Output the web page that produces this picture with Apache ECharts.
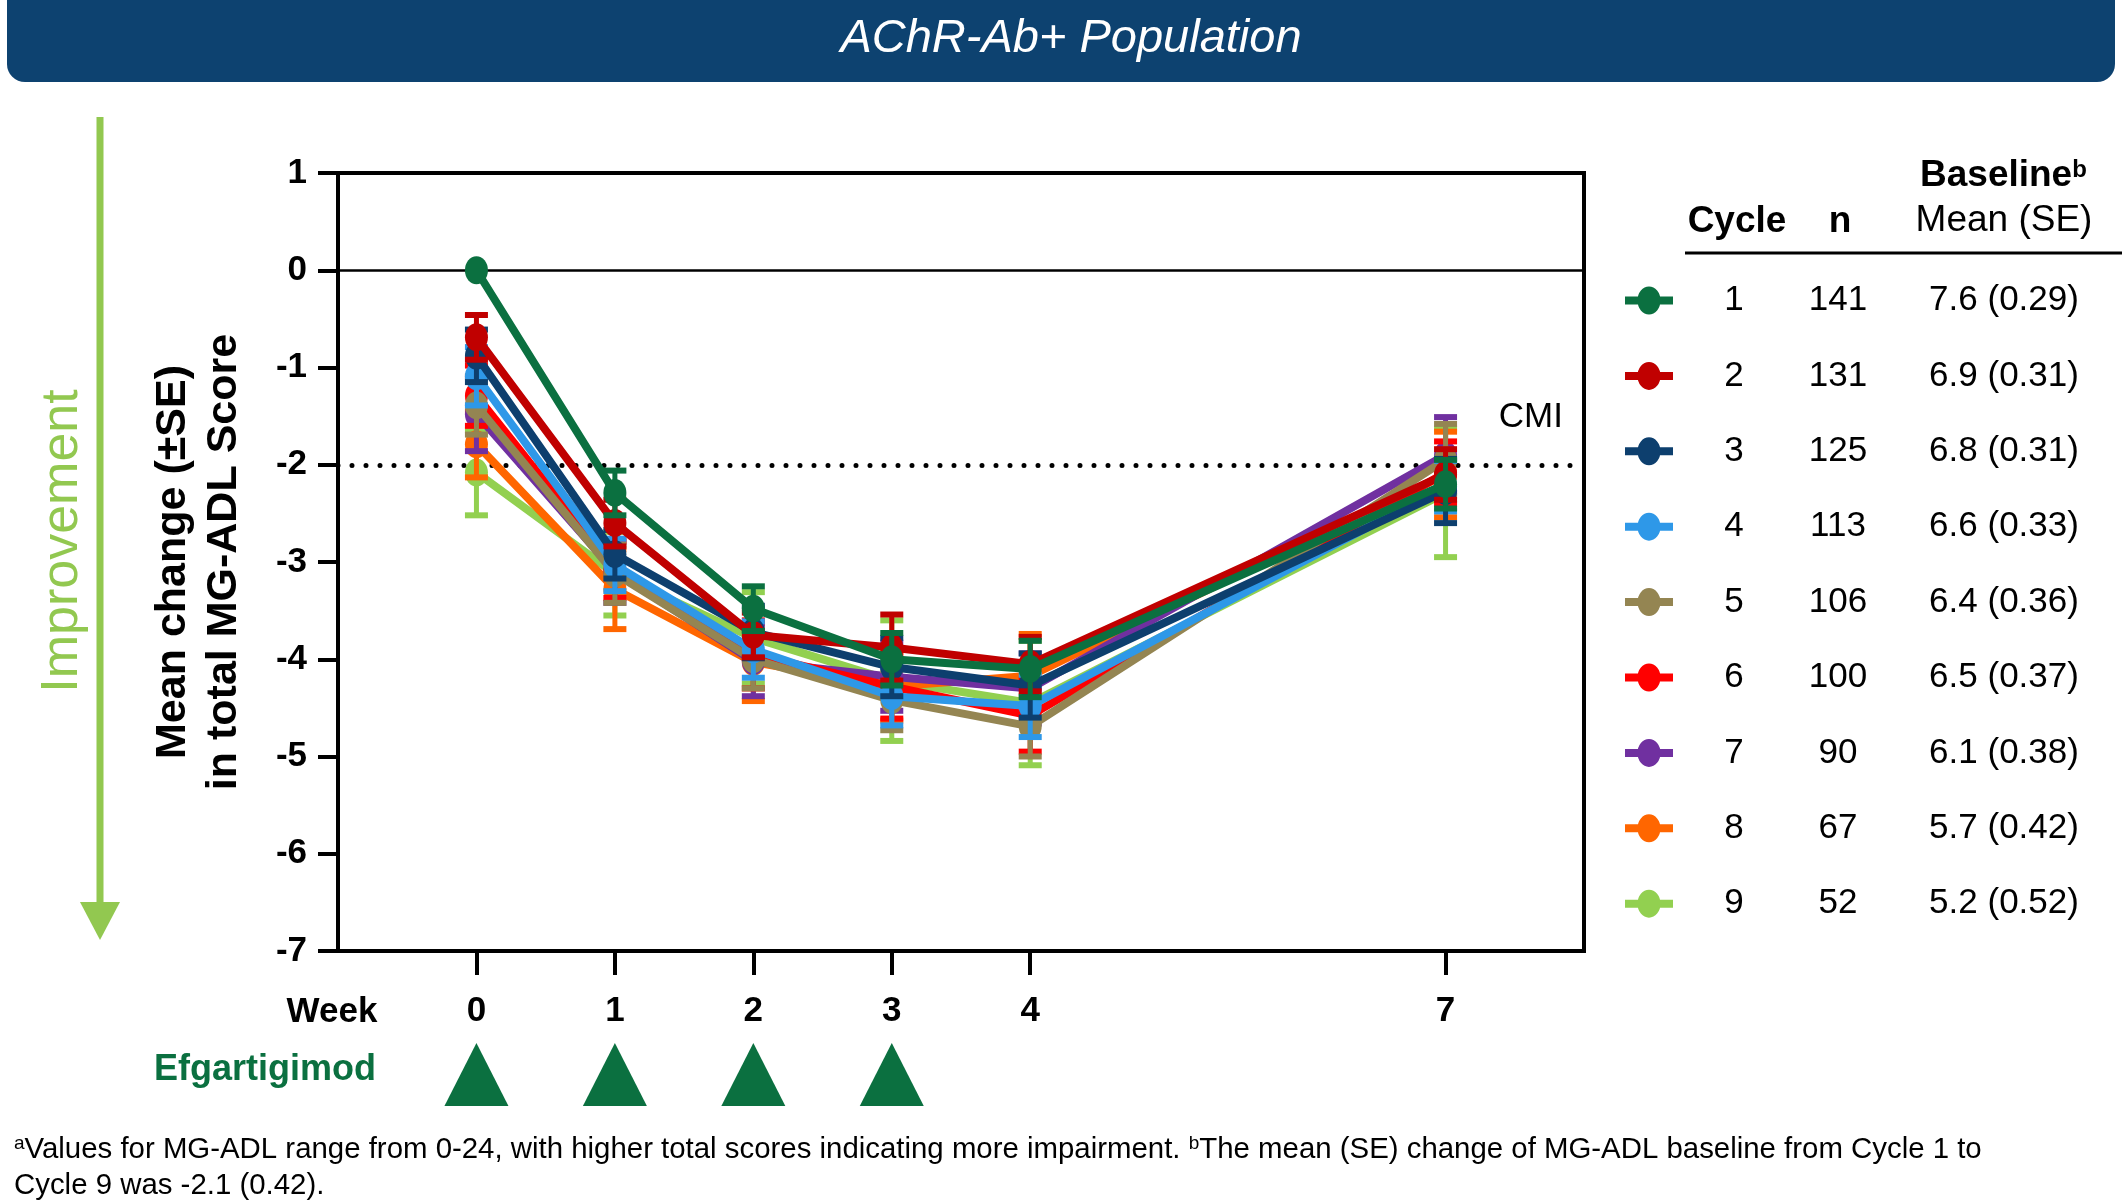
<!DOCTYPE html>
<html>
<head>
<meta charset="utf-8">
<script src="https://cdn.jsdelivr.net/npm/echarts@6/dist/echarts.min.js"></script>
<style>
html,body{margin:0;padding:0;background:#fff;}
#chart{width:2122px;height:1203px;}
</style>
</head>
<body>
<div id="chart"></div>
<script>
// ---------- DATA ----------
const weeks = [0, 1, 2, 3, 4, 7];
const doseWeeks = [0, 1, 2, 3];
const cycles = ['1', '2', '3', '4', '5', '6', '7', '8', '9'];
const nValues = ['141', '131', '125', '113', '106', '100', '90', '67', '52'];
const baselineMeanSE = ['7.6 (0.29)', '6.9 (0.31)', '6.8 (0.31)', '6.6 (0.33)', '6.4 (0.36)', '6.5 (0.37)', '6.1 (0.38)', '5.7 (0.42)', '5.2 (0.52)'];

const cycle1Mean = [0.00, -2.29, -3.48, -4.00, -4.10, -2.20];
const cycle1SE   = [0.00, 0.23, 0.23, 0.27, 0.29, 0.25];
const cycle2Mean = [-0.69, -2.60, -3.75, -3.88, -4.05, -2.10];
const cycle2SE   = [0.23, 0.24, 0.23, 0.34, 0.28, 0.26];
const cycle3Mean = [-0.88, -2.92, -3.72, -4.08, -4.27, -2.27];
const cycle3SE   = [0.27, 0.25, 0.27, 0.30, 0.33, 0.33];
const cycle4Mean = [-1.09, -3.03, -3.90, -4.38, -4.48, -2.22];
const cycle4SE   = [0.30, 0.27, 0.29, 0.30, 0.32, 0.26];
const cycle5Mean = [-1.39, -3.12, -4.00, -4.42, -4.69, -1.95];
const cycle5SE   = [0.30, 0.30, 0.30, 0.31, 0.31, 0.37];
const cycle6Mean = [-1.29, -3.08, -3.95, -4.28, -4.58, -2.08];
const cycle6SE   = [0.31, 0.29, 0.35, 0.33, 0.37, 0.32];
const cycle7Mean = [-1.48, -3.10, -4.02, -4.18, -4.30, -1.90];
const cycle7SE   = [0.38, 0.32, 0.36, 0.35, 0.36, 0.39];
const cycle8Mean = [-1.79, -3.28, -4.03, -4.28, -4.17, -2.10];
const cycle8SE   = [0.34, 0.41, 0.40, 0.35, 0.43, 0.44];
const cycle9Mean = [-2.08, -3.12, -3.78, -4.22, -4.45, -2.29];
const cycle9SE   = [0.44, 0.43, 0.47, 0.62, 0.64, 0.66];

const allMeans = [cycle1Mean, cycle2Mean, cycle3Mean, cycle4Mean, cycle5Mean, cycle6Mean, cycle7Mean, cycle8Mean, cycle9Mean];
const allSE = [cycle1SE, cycle2SE, cycle3SE, cycle4SE, cycle5SE, cycle6SE, cycle7SE, cycle8SE, cycle9SE];

// ---------- STYLE ----------
const colors = ['#0b7040', '#c00000', '#0d3f6e', '#2e98e8', '#948552', '#ff0000', '#7030a0', '#ff6600', '#92d050'];
const FONT = '"Liberation Sans", Arial, Helvetica, sans-serif';
const improveGreen = '#92c850';
const drugGreen = '#0b7040';

const chart = echarts.init(document.getElementById('chart'), null, {renderer: 'canvas'});

function errRender(color) {
  return function (params, api) {
    const x = api.value(0), lo = api.value(1), hi = api.value(2);
    if (lo === hi) return null;
    const a = api.coord([x, lo]), b = api.coord([x, hi]);
    const hw = 11.5;
    return {
      type: 'group',
      children: [
        {type: 'line', shape: {x1: a[0], y1: a[1], x2: b[0], y2: b[1]}, style: {stroke: color, lineWidth: 5}},
        {type: 'line', shape: {x1: a[0] - hw, y1: a[1], x2: a[0] + hw, y2: a[1]}, style: {stroke: color, lineWidth: 6}},
        {type: 'line', shape: {x1: b[0] - hw, y1: b[1], x2: b[0] + hw, y2: b[1]}, style: {stroke: color, lineWidth: 6}}
      ]
    };
  };
}

const series = [];
// reference lines
series.push({
  name: 'ref', type: 'line', data: [], z: 1, silent: true,
  markLine: {
    silent: true, symbol: 'none', animation: false,
    label: {show: false},
    data: [
      {yAxis: 0, lineStyle: {color: '#000', width: 2.5, type: 'solid'}},
      {yAxis: -2, lineStyle: {color: '#000', width: 5, type: [0, 14], cap: 'round'}}
    ]
  }
});

cycles.forEach(function (c, i) {
  const mean = allMeans[i], se = allSE[i];
  series.push({
    name: 'err' + c,
    type: 'custom',
    z: 99 - 2 * i,
    silent: true,
    itemStyle: {color: colors[i]},
    renderItem: errRender(colors[i]),
    encode: {x: 0, y: [1, 2]},
    data: weeks.map(function (w, k) { return [w, mean[k] - se[k], mean[k] + se[k]]; })
  });
  series.push({
    name: 'Cycle ' + c,
    type: 'line',
    z: 100 - 2 * i,
    silent: true,
    symbol: 'circle',
    symbolSize: [23, 28],
    showAllSymbol: true,
    lineStyle: {color: colors[i], width: 8},
    itemStyle: {color: colors[i]},
    data: weeks.map(function (w, k) { return [w, mean[k]]; })
  });
});

// drug administration triangles
series.push({
  name: 'dose',
  type: 'custom',
  silent: true,
  clip: false,
  z: 5,
  itemStyle: {color: drugGreen},
  renderItem: function (params, api) {
    const p = api.coord([api.value(0), -7]);
    return {
      type: 'polygon',
      shape: {points: [[p[0] - 32, p[1] + 155], [p[0] + 32, p[1] + 155], [p[0], p[1] + 92]]},
      style: {fill: drugGreen}
    };
  },
  encode: {x: 0},
  data: doseWeeks.map(function (w) { return [w]; })
});

const legendIcon = 'path://M0,10 L13,10 L13,18 L0,18 Z M35,10 L48,10 L48,18 L35,18 Z M12.5,14 A11.5,14 0 1,1 35.5,14 A11.5,14 0 1,1 12.5,14 Z';

const option = {
  animation: false,
  backgroundColor: '#ffffff',
  textStyle: {fontFamily: FONT},
  grid: {
    left: 338, right: 538, top: 173, bottom: 252,
    show: true, borderColor: '#000', borderWidth: 4, backgroundColor: 'transparent'
  },
  xAxis: {
    type: 'value', min: -1, max: 8, interval: 1,
    splitLine: {show: false},
    axisLine: {show: true, onZero: false, lineStyle: {color: '#000', width: 4}},
    axisTick: {show: true, customValues: weeks, length: 24, lineStyle: {color: '#000', width: 4}},
    axisLabel: {
      customValues: weeks, margin: 43,
      fontFamily: FONT, fontSize: 35, fontWeight: 'bold', color: '#000'
    }
  },
  yAxis: {
    type: 'value', min: -7, max: 1, interval: 1,
    splitLine: {show: false},
    axisLine: {show: true, onZero: false, lineStyle: {color: '#000', width: 4}},
    axisTick: {show: true, length: 20, lineStyle: {color: '#000', width: 4}},
    axisLabel: {margin: 31, fontFamily: FONT, fontSize: 35, fontWeight: 'bold', color: '#000'}
  },
  legend: {
    data: cycles.map(function (c) { return 'Cycle ' + c; }),
    orient: 'vertical',
    left: 1625, top: 283,
    padding: 0,
    itemWidth: 48, itemHeight: 28, itemGap: 40.4,
    icon: legendIcon,
    selectedMode: false,
    formatter: function (name) {
      const i = cycles.indexOf(name.replace('Cycle ', ''));
      return '{a|' + cycles[i] + '}{b|' + nValues[i] + '}{c|' + baselineMeanSE[i] + '}';
    },
    textStyle: {
      fontFamily: FONT, fontSize: 35, color: '#000',
      rich: {
        a: {width: 112, align: 'center', fontFamily: FONT, fontSize: 35, color: '#000', lineHeight: 28},
        b: {width: 96, align: 'center', fontFamily: FONT, fontSize: 35, color: '#000', lineHeight: 28},
        c: {width: 236, align: 'center', fontFamily: FONT, fontSize: 35, color: '#000', lineHeight: 28}
      }
    }
  },
  graphic: {
    elements: [
      {type: 'rect', silent: true, shape: {x: 7, y: -30, width: 2108, height: 112, r: 18}, style: {fill: '#0d4270'}},
      {type: 'text', silent: true, x: 1071, y: 39,
        style: {text: 'AChR-Ab+ Population', fill: '#fff', font: 'italic 47px ' + FONT, textAlign: 'center', textVerticalAlign: 'middle'}},
      // improvement arrow
      {type: 'line', silent: true, shape: {x1: 100, y1: 117, x2: 100, y2: 905}, style: {stroke: improveGreen, lineWidth: 7}},
      {type: 'polygon', silent: true, shape: {points: [[80, 902], [120, 902], [100, 940]]}, style: {fill: improveGreen}},
      {type: 'text', silent: true, x: 63, y: 541, rotation: Math.PI / 2,
        style: {text: 'Improvement', fill: improveGreen, font: '52px ' + FONT, textAlign: 'center', textVerticalAlign: 'middle'}},
      // y-axis title
      {type: 'text', silent: true, x: 199, y: 562, rotation: Math.PI / 2,
        style: {text: 'Mean change (±SE)\nin total MG-ADL Score', fill: '#000', font: 'bold 43px ' + FONT,
          textAlign: 'center', textVerticalAlign: 'middle', lineHeight: 51}},
      // CMI label
      {type: 'text', silent: true, x: 1563, y: 417,
        style: {text: 'CMI', fill: '#000', font: '35px ' + FONT, textAlign: 'right', textVerticalAlign: 'middle'}},
      // Week label
      {type: 'text', silent: true, x: 332, y: 1012,
        style: {text: 'Week', fill: '#000', font: 'bold 35px ' + FONT, textAlign: 'center', textVerticalAlign: 'middle'}},
      // Efgartigimod label
      {type: 'text', silent: true, x: 265, y: 1070,
        style: {text: 'Efgartigimod', fill: drugGreen, font: 'bold 36px ' + FONT, textAlign: 'center', textVerticalAlign: 'middle'}},
      // table headers
      {type: 'text', silent: true, x: 1737, y: 222,
        style: {text: 'Cycle', fill: '#000', font: 'bold 37px ' + FONT, textAlign: 'center', textVerticalAlign: 'middle'}},
      {type: 'text', silent: true, x: 1840, y: 222,
        style: {text: 'n', fill: '#000', font: 'bold 37px ' + FONT, textAlign: 'center', textVerticalAlign: 'middle'}},
      {type: 'text', silent: true, x: 1920, y: 176,
        style: {text: '{m|Baseline}{s|b}', textAlign: 'left', textVerticalAlign: 'middle',
          rich: {
            m: {fontFamily: FONT, fontSize: 37, fontWeight: 'bold', fill: '#000', lineHeight: 36},
            s: {fontFamily: FONT, fontSize: 24, fontWeight: 'bold', fill: '#000', verticalAlign: 'top', lineHeight: 26}
          }}},
      {type: 'text', silent: true, x: 2004, y: 221,
        style: {text: 'Mean (SE)', fill: '#000', font: '37px ' + FONT, textAlign: 'center', textVerticalAlign: 'middle'}},
      {type: 'line', silent: true, shape: {x1: 1685, y1: 253, x2: 2122, y2: 253}, style: {stroke: '#000', lineWidth: 3}},
      // footnote
      {type: 'text', silent: true, x: 14, y: 1150,
        style: {text: '{s|a}{t|Values for MG-ADL range from 0-24, with higher total scores indicating more impairment. }{s|b}{t|The mean (SE) change of MG-ADL baseline from Cycle 1 to}',
          textAlign: 'left', textVerticalAlign: 'middle',
          rich: {
            t: {fontFamily: FONT, fontSize: 29.4, fill: '#000', lineHeight: 32},
            s: {fontFamily: FONT, fontSize: 19, fill: '#000', verticalAlign: 'top', lineHeight: 24}
          }}},
      {type: 'text', silent: true, x: 14, y: 1186,
        style: {text: 'Cycle 9 was -2.1 (0.42).', fill: '#000', font: '29.4px ' + FONT, textAlign: 'left', textVerticalAlign: 'middle'}}
    ]
  },
  series: series
};

chart.setOption(option);
</script>
</body>
</html>
